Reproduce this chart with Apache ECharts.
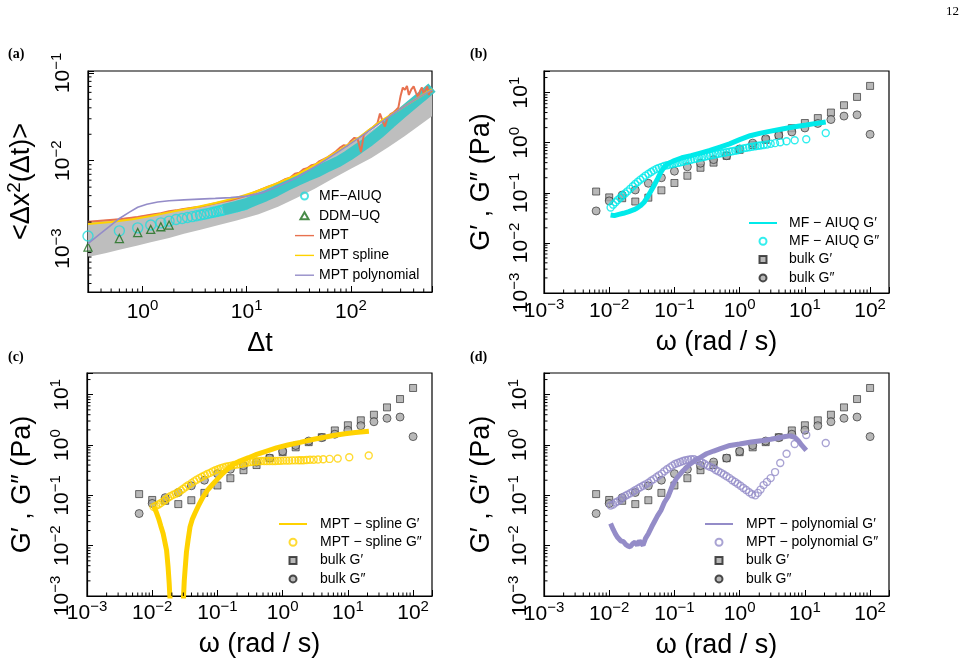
<!DOCTYPE html>
<html>
<head>
<meta charset="utf-8">
<title>MSD and moduli</title>
<script src="https://cdn.jsdelivr.net/npm/echarts@6.0.0/dist/echarts.min.js"></script>
<style>
  html, body { margin: 0; padding: 0; background: #fff; }
  #chart { width: 972px; height: 658px; }
</style>
</head>
<body>
<div id="chart"></div>
<script>
// ---- (a) MSD vs lag time ----
const aCiT = [0.3, 0.45, 0.6, 0.9, 1.2, 1.8, 2.5, 3.6, 5.4, 8, 13, 20, 30, 45, 66, 100, 157, 230, 327, 450, 600];
const aCiLo = [8.0e-4, 8.9e-4, 9.7e-4, 1.08e-3, 1.18e-3, 1.32e-3, 1.47e-3, 1.64e-3, 1.85e-3, 2.08e-3, 2.45e-3, 3.0e-3, 3.75e-3, 4.8e-3, 6.2e-3, 8.1e-3, 0.0107, 0.0143, 0.019, 0.025, 0.032];
const aCiHi = [2.05e-3, 2.12e-3, 2.2e-3, 2.33e-3, 2.45e-3, 2.66e-3, 2.85e-3, 3.05e-3, 3.35e-3, 3.8e-3, 4.6e-3, 5.6e-3, 6.9e-3, 8.8e-3, 0.0112, 0.0155, 0.022, 0.03, 0.04, 0.051, 0.062];

const aMfT = [0.3, 0.6, 0.9, 1.2, 1.5, 1.8, 2.1, 2.4, 2.7, 3.0, 3.3, 3.6, 3.9, 4.2, 4.5, 4.8, 5.1, 5.4, 5.7, 6.0, 6.6, 7.2, 7.8, 8.4, 9.0, 9.6];
const aMfV = [1.39e-3, 1.59e-3, 1.72e-3, 1.85e-3, 1.96e-3, 2.05e-3, 2.14e-3, 2.2e-3, 2.26e-3, 2.31e-3, 2.36e-3, 2.41e-3, 2.46e-3, 2.5e-3, 2.55e-3, 2.59e-3, 2.63e-3, 2.67e-3, 2.71e-3, 2.75e-3, 2.82e-3, 2.89e-3, 2.96e-3, 3.03e-3, 3.1e-3, 3.16e-3];
// dense part of the MF-AIUQ curve, where the circles merge into a band
const aBandT = [6, 8, 10, 12, 15, 19, 24, 30, 38, 48, 60, 75, 95, 120, 150, 190, 240, 300, 380, 480, 600];
const aBandV = [2.78e-3, 3.02e-3, 3.25e-3, 3.55e-3, 3.95e-3, 4.5e-3, 5.2e-3, 5.9e-3, 6.7e-3, 7.5e-3, 8.6e-3, 9.7e-3, 0.0115, 0.0139, 0.0168, 0.021, 0.027, 0.034, 0.043, 0.054, 0.068];

const aDdmT = [0.3, 0.6, 0.9, 1.2, 1.5, 1.8];
const aDdmV = [1.04e-3, 1.3e-3, 1.52e-3, 1.65e-3, 1.77e-3, 1.85e-3];

const aMptT = [0.3, 0.6, 0.9, 1.2, 1.5, 1.8, 2.1, 2.4, 3, 3.6,
  4.2, 5, 6, 7, 8, 9, 10, 12, 14, 16,
  18, 20, 23, 26, 29, 32, 35, 38, 42, 46,
  50, 55, 60, 66, 72, 78, 85, 92, 100, 108,
  116, 125, 133, 142, 150, 160, 170, 180, 190, 200,
  212, 225, 240, 255, 270, 285, 300, 315, 330, 345,
  360, 380, 400, 420, 440, 460, 480, 500, 520, 540,
  560, 580, 600];
const aMptV = [2.02e-3, 2.15e-3, 2.28e-3, 2.42e-3, 2.52e-3, 2.66e-3, 2.72e-3, 2.8e-3, 2.92e-3, 3.0e-3,
  3.12e-3, 3.28e-3, 3.42e-3, 3.55e-3, 3.72e-3, 3.85e-3, 4.02e-3, 4.4e-3, 4.75e-3, 5.05e-3,
  5.3e-3, 5.6e-3, 6.1e-3, 6.4e-3, 7.1e-3, 7.3e-3, 8.0e-3, 8.2e-3, 8.9e-3, 9.1e-3,
  9.9e-3, 0.0104, 0.011, 0.0119, 0.0128, 0.014, 0.015, 0.0148, 0.0168, 0.0182,
  0.0178, 0.0125, 0.0198, 0.0212, 0.0225, 0.0236, 0.0252, 0.0268, 0.0345, 0.029,
  0.0245, 0.031, 0.0338, 0.0352, 0.0375, 0.04, 0.055, 0.068, 0.064, 0.071,
  0.056, 0.065, 0.07, 0.06, 0.053, 0.062, 0.068, 0.058, 0.06, 0.07,
  0.056, 0.065, 0.06];

const aSplT = [0.3, 0.5, 0.8, 1.2, 2, 3, 5, 8, 12, 20, 30, 50, 80, 120, 200, 300, 450, 600];
const aSplV = [1.9e-3, 2.0e-3, 2.15e-3, 2.35e-3, 2.65e-3, 2.9e-3, 3.3e-3, 3.8e-3, 4.4e-3, 5.6e-3, 6.9e-3, 9.6e-3, 0.0135, 0.0185, 0.029, 0.039, 0.053, 0.065];

const aPolT = [0.3, 0.4, 0.5, 0.6, 0.75, 0.9, 1.1, 1.4, 1.8, 2.5, 3.5, 5, 7, 10, 14, 20, 30, 50, 80, 120, 200, 300, 450, 600];
const aPolV = [1.14e-3, 1.5e-3, 1.85e-3, 2.2e-3, 2.6e-3, 2.95e-3, 3.2e-3, 3.38e-3, 3.5e-3, 3.58e-3, 3.65e-3, 3.72e-3, 3.8e-3, 3.95e-3, 4.3e-3, 5.1e-3, 6.4e-3, 9.2e-3, 0.0132, 0.0182, 0.028, 0.039, 0.053, 0.064];

// ---- bulk rheology (same in b, c, d) ----
const bulkW = [0.0063, 0.01, 0.0158, 0.0251, 0.0398, 0.0631, 0.1, 0.158, 0.251, 0.398, 0.631, 1, 1.585, 2.51, 3.98, 6.31, 10, 15.8, 25.1, 39.8, 63.1, 100];
const bulkG1 = [0.106, 0.081, 0.078, 0.067, 0.080, 0.112, 0.157, 0.219, 0.316, 0.40, 0.547, 0.72, 0.9, 1.14, 1.43, 1.95, 2.47, 3.1, 4.0, 5.6, 8.2, 13.6];
const bulkG2 = [0.0435, 0.069, 0.09, 0.114, 0.155, 0.2, 0.27, 0.33, 0.39, 0.46, 0.55, 0.75, 0.98, 1.2, 1.4, 1.64, 1.97, 2.42, 2.9, 3.4, 3.6, 1.47];

// frequencies of the G'' circles (b, c, d)
const wG2 = [0.0105, 0.0115, 0.0125, 0.0135, 0.0148, 0.016, 0.0175, 0.019, 0.021, 0.023,
  0.025, 0.0275, 0.03, 0.033, 0.036, 0.04, 0.044, 0.048, 0.053, 0.058,
  0.064, 0.07, 0.077, 0.085, 0.093, 0.102, 0.112, 0.123, 0.135, 0.148,
  0.163, 0.18, 0.2, 0.22, 0.24, 0.265, 0.29, 0.32, 0.35, 0.39,
  0.43, 0.47, 0.52, 0.57, 0.63, 0.7, 0.77, 0.85, 0.93, 1.03,
  1.14, 1.26, 1.4, 1.55, 1.74, 1.9, 2.09, 2.33, 2.62, 2.99,
  3.49, 4.19, 5.24, 6.98, 10.5, 20.9];

// ---- (b) MF-AIUQ ----
const bG1W = [0.0105, 0.012, 0.014, 0.0165, 0.02, 0.024, 0.0265, 0.03, 0.034, 0.038, 0.043, 0.048, 0.055, 0.062, 0.07, 0.08, 0.1, 0.13, 0.18, 0.25, 0.35, 0.5, 0.7, 1, 1.45, 2.1, 3, 4.7, 7, 10.5, 14, 20.9];
const bG1 = [0.036, 0.035, 0.037, 0.039, 0.042, 0.046, 0.049, 0.055, 0.064, 0.08, 0.105, 0.135, 0.19, 0.26, 0.33, 0.38, 0.44, 0.5, 0.55, 0.62, 0.7, 0.82, 0.95, 1.15, 1.38, 1.55, 1.7, 1.9, 2.08, 2.25, 2.4, 2.6];
const bG2 = [0.051, 0.058, 0.065, 0.072, 0.08, 0.088, 0.097, 0.107, 0.12, 0.135,
  0.15, 0.166, 0.183, 0.2, 0.22, 0.24, 0.26, 0.28, 0.3, 0.315,
  0.33, 0.345, 0.355, 0.365, 0.375, 0.385, 0.395, 0.405, 0.415, 0.43,
  0.44, 0.455, 0.47, 0.485, 0.5, 0.51, 0.525, 0.54, 0.555, 0.57,
  0.585, 0.6, 0.615, 0.63, 0.645, 0.66, 0.675, 0.69, 0.705, 0.75,
  0.77, 0.79, 0.81, 0.83, 0.85, 0.87, 0.88, 0.9, 0.92, 0.95,
  0.98, 1.02, 1.07, 1.12, 1.17, 1.56];

// ---- (c) MPT spline (G' negative between the two branches) ----
const cG1W = [0.0105, 0.0115, 0.0125, 0.0135, 0.0147, 0.0157, 0.0166, 0.0175, 0.0182, 0.0188, 0.0192, 0.025,
  0.0295, 0.03, 0.031, 0.032, 0.0335, 0.0355, 0.038, 0.041, 0.045, 0.052,
  0.06, 0.07, 0.086, 0.1, 0.12, 0.15, 0.175, 0.22, 0.3, 0.4,
  0.57, 0.8, 1.2, 1.85, 3, 4, 6, 9, 13, 21];
const cG1 = [0.06, 0.047, 0.035, 0.025, 0.0175, 0.0115, 0.0081, 0.0038, 0.0018, 0.0008, 0.0003, null,
  0.0003, 0.0008, 0.002, 0.0035, 0.0075, 0.013, 0.0236, 0.033, 0.0436, 0.065,
  0.092, 0.125, 0.17, 0.21, 0.27, 0.35, 0.41, 0.48, 0.56, 0.65,
  0.76, 0.88, 1.0, 1.13, 1.3, 1.4, 1.55, 1.68, 1.78, 1.88];
const cG2 = [0.059, 0.062, 0.066, 0.07, 0.076, 0.082, 0.09, 0.096, 0.103, 0.108,
  0.115, 0.125, 0.135, 0.148, 0.16, 0.175, 0.19, 0.205, 0.22, 0.235,
  0.25, 0.265, 0.28, 0.3, 0.315, 0.33, 0.345, 0.36, 0.37, 0.38,
  0.39, 0.4, 0.41, 0.42, 0.43, 0.44, 0.45, 0.46, 0.465, 0.47,
  0.475, 0.48, 0.48, 0.48, 0.48, 0.48, 0.48, 0.485, 0.485, 0.49,
  0.49, 0.49, 0.495, 0.495, 0.5, 0.5, 0.5, 0.505, 0.51, 0.51,
  0.515, 0.52, 0.53, 0.54, 0.57, 0.62];

// ---- (d) MPT polynomial ----
const dG1W = [0.0105, 0.0115, 0.0125, 0.0135, 0.015, 0.0165, 0.018, 0.0195, 0.021, 0.023,
  0.025, 0.027, 0.029, 0.031, 0.033, 0.036, 0.04, 0.045, 0.05, 0.055,
  0.062, 0.07, 0.08, 0.092, 0.108, 0.13, 0.15, 0.175, 0.21, 0.25,
  0.31, 0.4, 0.52, 0.71, 1, 1.5, 2.3, 3, 4, 5,
  6, 7, 8, 9, 10.5];
const dG1 = [0.0275, 0.021, 0.017, 0.0145, 0.0125, 0.012, 0.0105, 0.0098, 0.0095, 0.011,
  0.0118, 0.0102, 0.0125, 0.0112, 0.0102, 0.014, 0.0175, 0.024, 0.031, 0.039,
  0.05, 0.072, 0.095, 0.15, 0.22, 0.29, 0.35, 0.42, 0.5, 0.57,
  0.67, 0.76, 0.86, 0.98, 1.05, 1.15, 1.23, 1.3, 1.4, 1.48,
  1.52, 1.42, 1.2, 0.98, 0.78];
const dG2 = [0.063, 0.066, 0.072, 0.076, 0.082, 0.09, 0.097, 0.103, 0.11, 0.118,
  0.126, 0.136, 0.145, 0.155, 0.165, 0.178, 0.195, 0.21, 0.23, 0.25,
  0.27, 0.3, 0.33, 0.36, 0.39, 0.42, 0.44, 0.46, 0.48, 0.5,
  0.51, 0.52, 0.52, 0.5, 0.48, 0.45, 0.42, 0.39, 0.37, 0.35,
  0.32, 0.3, 0.28, 0.26, 0.24, 0.22, 0.2, 0.185, 0.17, 0.155,
  0.14, 0.128, 0.115, 0.105, 0.1, 0.112, 0.13, 0.16, 0.185, 0.22,
  0.29, 0.44, 0.67, 1.05, 1.58, 1.1];

const FONT = 'Liberation Sans';
const CYAN = '#00eaea';
const MPT_C = '#e8714f';
const SPL_C = '#ffd200';
const POL_C = '#948cc8';

// legend icons: plain line, square, triangle
const LINE_ICON = 'path://M0,0H30V2.2H0Z';
const SQUARE_ICON = 'path://M0,0H10V10H0Z';
const TRI_ICON = 'path://M5,0L10,8.66L0,8.66Z';

function pairs(xs, ys) {
  return xs.map((x, i) => [x, ys[i] === null ? '-' : ys[i]]);
}

// 10^n labels, empty for the axis ends that are not powers of ten
function powLabel(v) {
  const e = Math.log10(v);
  const r = Math.round(e);
  if (Math.abs(e - r) > 1e-6) return '';
  return '10{e|' + (r < 0 ? '\u2212' + (-r) : String(r)) + '}';
}

function minorVals(lo, hi) {
  const out = [];
  for (let e = Math.floor(Math.log10(lo)); e <= Math.ceil(Math.log10(hi)); e++) {
    for (let m = 2; m <= 9; m++) {
      const v = m * Math.pow(10, e);
      if (v > lo * 1.001 && v < hi * 0.999) out.push(v);
    }
  }
  return out;
}

function axisBase(idx, min, max, margin, rotate) {
  return {
    type: 'log', logBase: 10, gridIndex: idx, min: min, max: max,
    axisLine: { show: true, onZero: false, lineStyle: { color: '#000', width: 1.2 } },
    axisTick: { show: true, inside: true, length: 6, lineStyle: { color: '#000', width: 1 } },
    minorTick: { show: false },
    splitLine: { show: false },
    axisLabel: {
      margin: margin, rotate: rotate, formatter: powLabel, color: '#000',
      fontFamily: FONT, fontSize: 21, lineHeight: 28,
      showMinLabel: true, showMaxLabel: true,
      rich: { e: { fontFamily: FONT, fontSize: 15, lineHeight: 15, verticalAlign: 'top', color: '#000' } }
    },
    nameLocation: 'middle',
    nameTextStyle: { fontFamily: FONT, fontSize: 27, lineHeight: 34, color: '#000' }
  };
}

function xAxisOf(idx, min, max, name, margin, gap) {
  return Object.assign(axisBase(idx, min, max, margin, 0), { name: name, nameGap: gap });
}

function yAxisOf(idx, min, max, name, margin, gap) {
  return Object.assign(axisBase(idx, min, max, margin, 90), { name: name, nameGap: gap, nameRotate: 90 });
}

// log minor ticks (2..9 per decade), drawn inward on bottom and left axes
function tickSeries(idx, dim, vals, other) {
  return {
    type: 'custom', xAxisIndex: idx, yAxisIndex: idx, silent: true, z: 10, clip: false,
    data: vals.map(v => dim === 'x' ? [v, other] : [other, v]),
    renderItem: function (params, api) {
      const p = api.coord([api.value(0), api.value(1)]);
      const len = 3.5;
      const shape = dim === 'x'
        ? { x1: p[0], y1: p[1], x2: p[0], y2: p[1] - len }
        : { x1: p[0], y1: p[1], x2: p[0] + len, y2: p[1] };
      return { type: 'line', shape: shape, style: { stroke: '#000', lineWidth: 1 } };
    }
  };
}

function ringSeries(name, idx, xs, ys, size, color) {
  return {
    name: name, type: 'scatter', xAxisIndex: idx, yAxisIndex: idx,
    data: pairs(xs, ys), symbol: 'circle', symbolSize: size,
    itemStyle: { color: 'rgba(255,255,255,0)', borderColor: color, borderWidth: 1.4 }
  };
}

function lineSeries(name, idx, xs, ys, color, width) {
  return {
    name: name, type: 'line', xAxisIndex: idx, yAxisIndex: idx,
    data: pairs(xs, ys), symbol: 'none', connectNulls: false, clip: true,
    lineStyle: { color: color, width: width }, itemStyle: { color: color }
  };
}

function bulkSeries(idx) {
  return [
    {
      name: 'bulk G\u2032', type: 'scatter', xAxisIndex: idx, yAxisIndex: idx,
      data: pairs(bulkW, bulkG1), symbol: 'rect', symbolSize: 7,
      itemStyle: { color: '#a6a6a6', borderColor: '#222', borderWidth: 0.8 }
    },
    {
      name: 'bulk G\u2033', type: 'scatter', xAxisIndex: idx, yAxisIndex: idx,
      data: pairs(bulkW, bulkG2), symbol: 'circle', symbolSize: 8,
      itemStyle: { color: '#a6a6a6', borderColor: '#222', borderWidth: 0.8 }
    }
  ];
}

const A_X = [0.3, 600], A_Y = [3.2e-4, 0.105];
const G_X = [0.001, 195], G_Y = [0.001, 27];
const OMEGA = '\u03c9 (rad / s)';
const GNAME = 'G\u2032 , G\u2033 (Pa)';

const series = [
  // (a)
  {
    type: 'custom', xAxisIndex: 0, yAxisIndex: 0, silent: true, z: 1,
    data: [[aCiT[0], aCiLo[0]]],
    renderItem: function (params, api) {
      const pts = [];
      aCiT.forEach((t, i) => pts.push(api.coord([t, aCiHi[i]])));
      for (let i = aCiT.length - 1; i >= 0; i--) pts.push(api.coord([aCiT[i], aCiLo[i]]));
      return { type: 'polygon', shape: { points: pts }, style: { fill: '#bebebe' } };
    }
  },
  lineSeries('MF-AIUQ band', 0, aBandT, aBandV, '#3fc6c6', 11),
  ringSeries('MF\u2212AIUQ', 0, aMfT, aMfV, 10, '#22dcdc'),
  {
    name: 'DDM\u2212UQ', type: 'scatter', xAxisIndex: 0, yAxisIndex: 0,
    data: pairs(aDdmT, aDdmV), symbol: 'triangle', symbolSize: 8,
    itemStyle: { color: 'rgba(255,255,255,0)', borderColor: '#1a6e1a', borderWidth: 1.3 }
  },
  lineSeries('MPT', 0, aMptT, aMptV, MPT_C, 2),
  lineSeries('MPT spline', 0, aSplT, aSplV, SPL_C, 2),
  lineSeries('MPT polynomial', 0, aPolT, aPolV, POL_C, 1.6),
  tickSeries(0, 'x', minorVals(A_X[0], A_X[1]), A_Y[0]),
  tickSeries(0, 'y', minorVals(A_Y[0], A_Y[1]), A_X[0]),
  // (b)
  ...bulkSeries(1),
  lineSeries('MF \u2212 AIUQ G\u2032', 1, bG1W, bG1, CYAN, 5),
  ringSeries('MF \u2212 AIUQ G\u2033', 1, wG2, bG2, 7, CYAN),
  tickSeries(1, 'x', minorVals(G_X[0], G_X[1]), G_Y[0]),
  tickSeries(1, 'y', minorVals(G_Y[0], G_Y[1]), G_X[0]),
  // (c)
  ...bulkSeries(2),
  lineSeries('MPT \u2212 spline G\u2032', 2, cG1W, cG1, SPL_C, 5),
  ringSeries('MPT \u2212 spline G\u2033', 2, wG2, cG2, 7, SPL_C),
  tickSeries(2, 'x', minorVals(G_X[0], G_X[1]), G_Y[0]),
  tickSeries(2, 'y', minorVals(G_Y[0], G_Y[1]), G_X[0]),
  // (d)
  ...bulkSeries(3),
  lineSeries('MPT \u2212 polynomial G\u2032', 3, dG1W, dG1, POL_C, 5),
  ringSeries('MPT \u2212 polynomial G\u2033', 3, wG2, dG2, 7, POL_C),
  tickSeries(3, 'x', minorVals(G_X[0], G_X[1]), G_Y[0]),
  tickSeries(3, 'y', minorVals(G_Y[0], G_Y[1]), G_X[0])
];

function legendOf(left, top, iw, pad, gap, items) {
  return {
    orient: 'vertical', left: left, top: top, itemWidth: iw, itemHeight: 7, itemGap: gap,
    selectedMode: false, padding: 0, data: items, symbolKeepAspect: true,
    textStyle: { fontFamily: FONT, fontSize: 14, lineHeight: 16, color: '#000', padding: [0, 0, 0, pad] }
  };
}

function modLegend(g1, g2) {
  return [
    { name: g1, icon: LINE_ICON },
    { name: g2, icon: 'circle' },
    { name: 'bulk G\u2032', icon: SQUARE_ICON },
    { name: 'bulk G\u2033', icon: 'circle' }
  ];
}

const gridBox = { show: true, borderColor: '#000', borderWidth: 1.2, containLabel: false, outerBoundsMode: 'none' };

const option = {
  animation: false,
  backgroundColor: '#fff',
  grid: [
    Object.assign({ left: 88, top: 71, width: 344, height: 221 }, gridBox),
    Object.assign({ left: 544, top: 71, width: 345, height: 222 }, gridBox),
    Object.assign({ left: 87, top: 373, width: 345, height: 223 }, gridBox),
    Object.assign({ left: 544, top: 373, width: 345, height: 223 }, gridBox)
  ],
  xAxis: [
    xAxisOf(0, A_X[0], A_X[1], '\u0394t', 6, 28),
    xAxisOf(1, G_X[0], G_X[1], OMEGA, 4, 26),
    xAxisOf(2, G_X[0], G_X[1], OMEGA, 3, 27),
    xAxisOf(3, G_X[0], G_X[1], OMEGA, 4, 25)
  ],
  yAxis: [
    Object.assign(yAxisOf(0, A_Y[0], A_Y[1], '<\u0394x{s|2}(\u0394t)>', 11, 49), {
      nameTextStyle: {
        fontFamily: FONT, fontSize: 27, lineHeight: 34, color: '#000',
        rich: { s: { fontFamily: FONT, fontSize: 19, lineHeight: 19, verticalAlign: 'top', color: '#000' } }
      }
    }),
    yAxisOf(1, G_Y[0], G_Y[1], GNAME, 9, 45),
    yAxisOf(2, G_Y[0], G_Y[1], GNAME, 11, 47),
    yAxisOf(3, G_Y[0], G_Y[1], GNAME, 10, 45)
  ],
  legend: [
    legendOf(295, 188, 19, 0, 3.8, [
      { name: 'MF\u2212AIUQ', icon: 'circle' },
      { name: 'DDM\u2212UQ', icon: TRI_ICON },
      { name: 'MPT', icon: LINE_ICON },
      { name: 'MPT spline', icon: LINE_ICON },
      { name: 'MPT polynomial', icon: LINE_ICON }
    ]),
    legendOf(749, 215, 28, 7, 2.3, modLegend('MF \u2212 AIUQ G\u2032', 'MF \u2212 AIUQ G\u2033')),
    legendOf(279, 516, 28, 8, 2.3, modLegend('MPT \u2212 spline G\u2032', 'MPT \u2212 spline G\u2033')),
    legendOf(705, 516, 28, 8, 2.3, modLegend('MPT \u2212 polynomial G\u2032', 'MPT \u2212 polynomial G\u2033'))
  ],
  graphic: [
    { type: 'text', left: 8, top: 47, style: { text: '(a)', font: 'bold 14px "Liberation Serif"', fill: '#000' } },
    { type: 'text', left: 470, top: 47, style: { text: '(b)', font: 'bold 14px "Liberation Serif"', fill: '#000' } },
    { type: 'text', left: 8, top: 350, style: { text: '(c)', font: 'bold 14px "Liberation Serif"', fill: '#000' } },
    { type: 'text', left: 470, top: 350, style: { text: '(d)', font: 'bold 14px "Liberation Serif"', fill: '#000' } },
    { type: 'text', left: 946, top: 5, style: { text: '12', font: '13px "Liberation Serif"', fill: '#000' } }
  ],
  series: series
};

const chart = echarts.init(document.getElementById('chart'));
chart.setOption(option);
</script>
</body>
</html>
